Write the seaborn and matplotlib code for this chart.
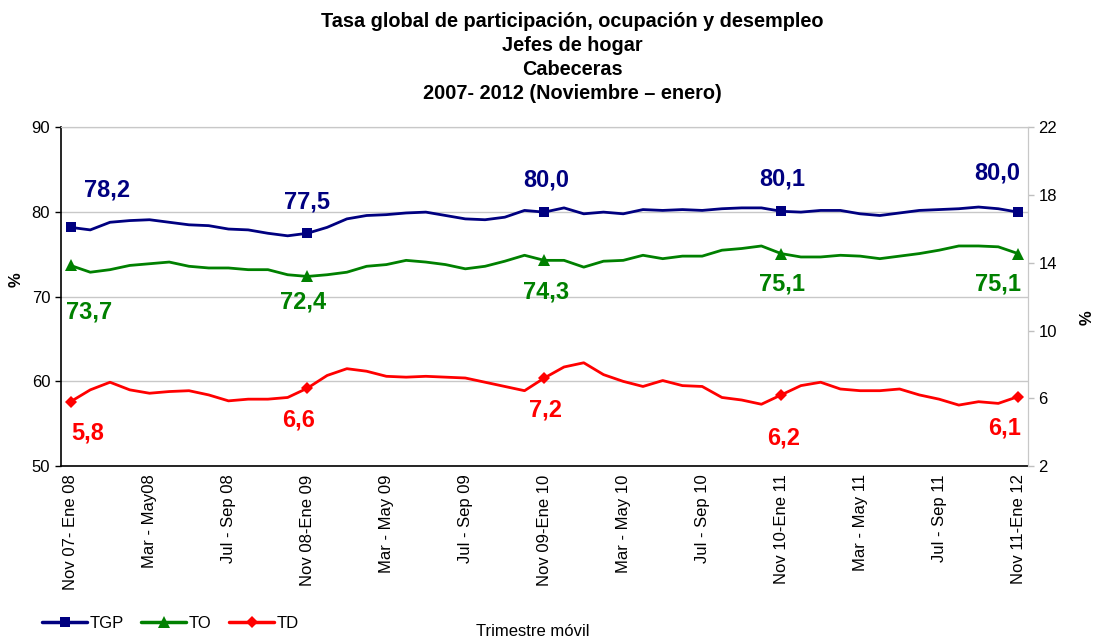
import numpy as np
import pandas as pd
import matplotlib
matplotlib.use("Agg")
import matplotlib.pyplot as plt
from matplotlib.lines import Line2D
import seaborn as sns

# ---------------- data ----------------
tick_labels = ["Nov 07- Ene 08", "Mar - May08", "Jul - Sep 08", "Nov 08-Ene 09",
               "Mar - May 09", "Jul - Sep 09", "Nov 09-Ene 10", "Mar - May 10",
               "Jul - Sep 10", "Nov 10-Ene 11", "Mar - May 11", "Jul - Sep 11",
               "Nov 11-Ene 12"]

tgp = [78.2, 77.9, 78.8, 79.0, 79.1, 78.8, 78.5, 78.4, 78.0, 77.9, 77.5, 77.2,
       77.5, 78.2, 79.2, 79.6, 79.7, 79.9, 80.0, 79.6, 79.2, 79.1, 79.4, 80.2,
       80.0, 80.5, 79.8, 80.0, 79.8, 80.3, 80.2, 80.3, 80.2, 80.4, 80.5, 80.5,
       80.1, 80.0, 80.2, 80.2, 79.8, 79.6, 79.9, 80.2, 80.3, 80.4, 80.6, 80.4,
       80.0]
to = [73.7, 72.9, 73.2, 73.7, 73.9, 74.1, 73.6, 73.4, 73.4, 73.2, 73.2, 72.6,
      72.4, 72.6, 72.9, 73.6, 73.8, 74.3, 74.1, 73.8, 73.3, 73.6, 74.2, 74.9,
      74.3, 74.3, 73.5, 74.2, 74.3, 74.9, 74.5, 74.8, 74.8, 75.5, 75.7, 76.0,
      75.1, 74.7, 74.7, 74.9, 74.8, 74.5, 74.8, 75.1, 75.5, 76.0, 76.0, 75.9,
      75.1]
td = [5.8, 6.5, 6.95, 6.5, 6.3, 6.4, 6.45, 6.2, 5.85, 5.95, 5.95, 6.05,
      6.6, 7.35, 7.75, 7.6, 7.3, 7.25, 7.3, 7.25, 7.2, 6.95, 6.7, 6.45,
      7.2, 7.85, 8.1, 7.4, 7.0, 6.7, 7.05, 6.75, 6.7, 6.05, 5.9, 5.65,
      6.2, 6.75, 6.95, 6.55, 6.45, 6.45, 6.55, 6.2, 5.95, 5.6, 5.8, 5.7,
      6.1]
labeled_idx = [0, 12, 24, 36, 48]

# ---------------- style ----------------
sns.set_style("white")
plt.rcParams["font.family"] = ["Liberation Sans", "DejaVu Sans"]
plt.rcParams["text.color"] = "black"
plt.rcParams["axes.labelcolor"] = "black"
plt.rcParams["xtick.color"] = "black"
plt.rcParams["ytick.color"] = "black"

df = pd.DataFrame({"idx": np.arange(len(tgp)), "TGP": tgp, "TO": to, "TD": td})

C_TGP = "#000080"
C_TO = "#008000"
C_TD = "#FF0000"

fig = plt.figure(figsize=(10.97, 6.39), dpi=100)
ax = fig.add_axes([0.0553, 0.2707, 0.937 - 0.0553, 0.8005 - 0.2707])
ax2 = ax.twinx()

sns.lineplot(data=df, x="idx", y="TGP", ax=ax, color=C_TGP, lw=2.0,
             marker="s", markersize=7, markevery=labeled_idx, markeredgewidth=0)
sns.lineplot(data=df, x="idx", y="TO", ax=ax, color=C_TO, lw=2.0,
             marker="^", markersize=8, markevery=labeled_idx, markeredgewidth=0)
sns.lineplot(data=df, x="idx", y="TD", ax=ax2, color=C_TD, lw=2.0,
             marker="D", markersize=6.5, markevery=labeled_idx, markeredgewidth=0)

# axes limits and ticks
n = len(tgp)
ax.set_xlim(-0.5, n - 0.5)
ax.set_ylim(50, 90)
ax2.set_ylim(2, 22)
ax.set_yticks([50, 60, 70, 80, 90])
ax2.set_yticks([2, 6, 10, 14, 18, 22])
ax.set_xticks(list(range(0, n, 4)))
ax.set_xticklabels(tick_labels, rotation=90, fontsize=12)
ax.set_xticks(np.arange(-0.5, n, 1), minor=True)
ax.tick_params(axis="x", which="major", length=0, pad=6, labelcolor="black")
ax.tick_params(axis="x", which="minor", length=4, width=1, color="black", direction="out")
ax.tick_params(axis="y", length=4, width=1, color="black", labelsize=12,
               direction="out", left=True, labelcolor="black")
ax2.tick_params(axis="y", length=4, width=1, color="#BFBFBF", labelsize=12,
                direction="out", right=True, labelcolor="black")

ax.grid(axis="y", color="#C8C8C8", lw=1)
ax.grid(axis="x", visible=False)
ax.set_axisbelow(True)

for s in ["left", "bottom"]:
    ax.spines[s].set_color("black")
    ax.spines[s].set_linewidth(1.2)
for s in ["top", "right"]:
    ax.spines[s].set_color("#C8C8C8")
    ax2.spines[s].set_color("#C8C8C8")
ax2.spines["left"].set_visible(False)
ax2.spines["bottom"].set_visible(False)

ax.set_xlabel("")
ax.set_ylabel("")
ax2.set_ylabel("")
fig.text(16 / 1097, 1 - 280 / 639, "%", rotation=90, ha="center", va="center",
         fontsize=12, fontweight="bold")
fig.text(1087 / 1097, 1 - 318 / 639, "%", rotation=90, ha="center", va="center",
         fontsize=12, fontweight="bold")

# data labels
def px(v):
    return v * 0.72  # pixels -> points at dpi 100

tgp_off = [(37, 37), (0, 31), (2, 32), (1, 32), (-21, 39)]
to_off = [(19, -47), (-4, -26), (2, -32), (1, -30), (-20, -30)]
td_off = [(17, -31), (-9, -32), (1, -32), (2, -43), (-13, -31)]

for k, i in enumerate(labeled_idx):
    ax.annotate(f"{tgp[i]:.1f}".replace(".", ","), xy=(i, tgp[i]),
                xytext=(px(tgp_off[k][0]), px(tgp_off[k][1])), textcoords="offset points",
                ha="center", va="center", fontsize=17, fontweight="bold", color=C_TGP)
    ax.annotate(f"{to[i]:.1f}".replace(".", ","), xy=(i, to[i]),
                xytext=(px(to_off[k][0]), px(to_off[k][1])), textcoords="offset points",
                ha="center", va="center", fontsize=17, fontweight="bold", color=C_TO)
    ax2.annotate(f"{td[i]:.1f}".replace(".", ","), xy=(i, td[i]),
                 xytext=(px(td_off[k][0]), px(td_off[k][1])), textcoords="offset points",
                 ha="center", va="center", fontsize=17, fontweight="bold", color=C_TD)

# title
fig.text(572 / 1097, 1 - 12 / 639,
         "Tasa global de participación, ocupación y desempleo\nJefes de hogar\nCabeceras\n2007- 2012 (Noviembre – enero)",
         ha="center", va="top", fontsize=14.3, fontweight="bold", linespacing=1.33)

# x axis title
fig.text(533 / 1097, 1 - 631 / 639, "Trimestre móvil", ha="center", va="center", fontsize=12)

# legend
handles = [Line2D([], [], color=C_TGP, lw=2.5, marker="s", markersize=7, markeredgewidth=0),
           Line2D([], [], color=C_TO, lw=2.5, marker="^", markersize=8, markeredgewidth=0),
           Line2D([], [], color=C_TD, lw=2.5, marker="D", markersize=6.5, markeredgewidth=0)]
fig.legend(handles, ["TGP", "TO", "TD"], loc="center left",
           bbox_to_anchor=(42 / 1097, 1 - 623 / 639), ncol=3, frameon=False,
           fontsize=12, handlelength=2.7, handletextpad=0.15, columnspacing=1.05,
           borderpad=0, borderaxespad=0)

fig.savefig("out.png", dpi=100)
